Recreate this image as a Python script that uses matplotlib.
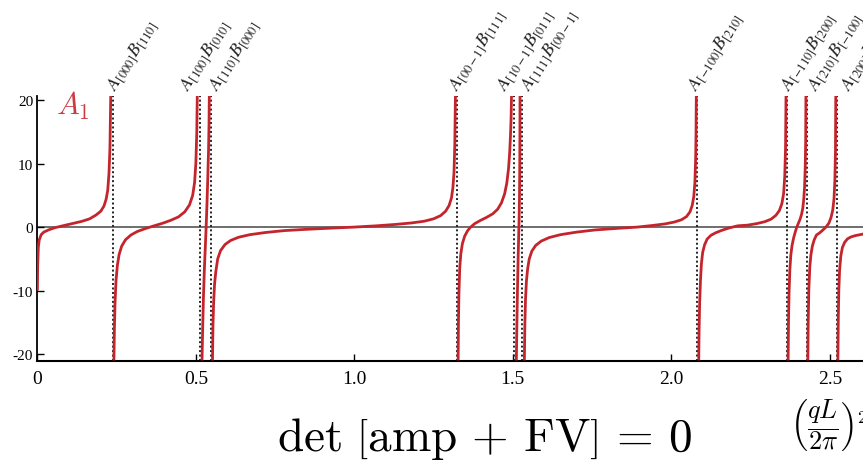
import matplotlib
matplotlib.use("Agg")
import matplotlib.pyplot as plt

plt.rcParams['axes.unicode_minus'] = False
plt.rcParams['font.family'] = ['Liberation Serif', 'DejaVu Serif']

# pole positions (dotted lines), in (qL/2pi)^2
pole_x = [0.238, 0.513, 0.548, 1.325, 1.505, 1.528, 2.082, 2.3655, 2.4275, 2.5215]

# level labels and where they sit
level_labels = [r'$A_{[000]}B_{[110]}$', r'$A_{[100]}B_{[010]}$', r'$A_{[110]}B_{[000]}$',
                r'$A_{[00-1]}B_{[111]}$', r'$A_{[10-1]}B_{[011]}$', r'$A_{[111]}B_{[00-1]}$',
                r'$A_{[-100]}B_{[210]}$', r'$A_{[-110]}B_{[200]}$', r'$A_{[210]}B_{[-100]}$',
                r'$A_{[200]}B_{[-110]}$']
label_x = [0.244, 0.476, 0.565, 1.323, 1.476, 1.550, 2.076, 2.371, 2.455, 2.560]

# branches of det[amp + FV]
b0_x = [0.000, 0.001, 0.003, 0.006, 0.012, 0.020, 0.035, 0.055, 0.080, 0.110, 0.140, 0.165,
        0.185, 0.200, 0.210, 0.217, 0.222, 0.226, 0.229, 0.2315]
b0_y = [-10.0, -6.0, -3.2, -2.0, -1.2, -0.8, -0.45, -0.1, 0.2, 0.55, 0.9, 1.3,
        1.9, 2.5, 3.3, 4.4, 5.8, 8.5, 12.5, 20.7]
b1_x = [0.2415, 0.243, 0.245, 0.248, 0.2525, 0.258, 0.266, 0.278, 0.295, 0.315, 0.340, 0.365,
        0.395, 0.420, 0.445, 0.465, 0.480, 0.490, 0.496, 0.500, 0.503, 0.5045]
b1_y = [-21.0, -16.0, -12.0, -8.5, -6.0, -4.3, -3.0, -2.0, -1.25, -0.7, -0.25, 0.15,
        0.6, 1.05, 1.6, 2.4, 3.5, 5.0, 7.0, 10.0, 15.0, 20.7]
b2_x = [0.5195, 0.5215, 0.524, 0.527, 0.530, 0.5325, 0.535, 0.5375, 0.540, 0.5415, 0.5425]
b2_y = [-21.0, -16.0, -11.0, -6.5, -3.0, 0.0, 3.5, 7.5, 12.0, 16.0, 20.7]
b3_x = [0.5525, 0.554, 0.556, 0.559, 0.563, 0.569, 0.578, 0.592, 0.610, 0.635, 0.670, 0.720,
        0.780, 0.850, 0.920, 1.000, 1.070, 1.130, 1.180, 1.220, 1.250, 1.272, 1.288, 1.299,
        1.3065, 1.311, 1.3145, 1.317, 1.319]
b3_y = [-21.0, -15.5, -12.0, -9.0, -7.0, -5.0, -3.7, -2.75, -2.1, -1.6, -1.2, -0.85,
        -0.55, -0.35, -0.18, 0.0, 0.2, 0.42, 0.65, 0.92, 1.3, 1.8, 2.5, 3.4,
        4.6, 6.2, 8.6, 13.0, 20.7]
b4_x = [1.3275, 1.3285, 1.330, 1.3325, 1.336, 1.341, 1.348, 1.357, 1.367, 1.380, 1.398, 1.418,
        1.437, 1.452, 1.464, 1.474, 1.481, 1.4865, 1.490, 1.4925, 1.4945, 1.496]
b4_y = [-21.0, -15.0, -10.5, -6.5, -4.2, -2.6, -1.45, -0.6, 0.0, 0.55, 1.05, 1.55,
        2.1, 2.8, 3.8, 5.2, 6.9, 9.2, 11.6, 14.2, 17.0, 20.7]
b5_x = [1.5112, 1.5125, 1.514, 1.5155, 1.517, 1.5185, 1.5198, 1.521, 1.5218, 1.5224, 1.5228]
b5_y = [-21.0, -16.5, -12.0, -8.0, -4.5, -1.5, 1.0, 4.5, 8.5, 14.0, 20.7]
b6_x = [1.5365, 1.538, 1.540, 1.543, 1.547, 1.552, 1.560, 1.572, 1.590, 1.615, 1.650, 1.700,
        1.760, 1.830, 1.893, 1.940, 1.980, 2.010, 2.032, 2.048, 2.059, 2.066, 2.071, 2.0745,
        2.077, 2.078, 2.079]
b6_y = [-21.0, -15.5, -11.5, -8.5, -6.5, -5.0, -3.8, -2.9, -2.2, -1.65, -1.2, -0.8,
        -0.45, -0.2, 0.0, 0.25, 0.5, 0.8, 1.15, 1.65, 2.4, 3.4, 4.8, 7.0,
        11.0, 14.5, 20.7]
b7_x = [2.0866, 2.0878, 2.0895, 2.092, 2.095, 2.099, 2.105, 2.113, 2.125, 2.140, 2.160, 2.185,
        2.210, 2.240, 2.270, 2.295, 2.315, 2.330, 2.341, 2.349, 2.3545, 2.358, 2.3605, 2.362]
b7_y = [-21.0, -16.0, -12.0, -8.5, -5.8, -4.0, -2.8, -1.9, -1.3, -0.9, -0.5, -0.1,
        0.2, 0.3, 0.55, 0.85, 1.25, 1.85, 2.6, 3.7, 5.3, 8.0, 12.5, 20.7]
b8_x = [2.3686, 2.3698, 2.3715, 2.374, 2.377, 2.381, 2.386, 2.391, 2.396, 2.401, 2.406, 2.411,
        2.415, 2.418, 2.4205, 2.4225, 2.424, 2.4248]
b8_y = [-21.0, -15.0, -10.5, -6.8, -4.5, -2.9, -1.7, -0.8, 0.0, 0.6, 1.2, 2.0,
        3.0, 4.4, 6.3, 9.2, 13.5, 20.7]
b9_x = [2.4308, 2.432, 2.434, 2.437, 2.4405, 2.445, 2.451, 2.458, 2.467, 2.4775, 2.488, 2.497,
        2.504, 2.5095, 2.5135, 2.5162, 2.518, 2.519]
b9_y = [-21.0, -15.0, -9.8, -6.3, -4.4, -3.0, -2.0, -1.25, -0.95, -0.5, 0.0, 0.6,
        1.5, 2.7, 4.5, 7.5, 12.0, 20.7]
b10_x = [2.5256, 2.527, 2.5287, 2.531, 2.535, 2.540, 2.547, 2.556, 2.567, 2.580, 2.595, 2.610,
         2.630, 2.650]
b10_y = [-21.0, -14.0, -9.8, -6.8, -4.5, -3.2, -2.4, -1.85, -1.55, -1.35, -1.2, -1.05,
         -0.9, -0.75]

branches = [(b0_x, b0_y), (b1_x, b1_y), (b2_x, b2_y), (b3_x, b3_y), (b4_x, b4_y),
            (b5_x, b5_y), (b6_x, b6_y), (b7_x, b7_y), (b8_x, b8_y), (b9_x, b9_y),
            (b10_x, b10_y)]

xticks = [0, 0.5, 1.0, 1.5, 2.0, 2.5]
xticklabels = ['0', '0.5', '1.0', '1.5', '2.0', '2.5']
yticks = [-20, -10, 0, 10, 20]

curve_color = '#c4252c'

fig = plt.figure(figsize=(8.63, 4.64), dpi=100)
# axes run past the right edge on purpose, the original is cropped there
ax = fig.add_axes([0.0433, 0.2205, 1.01, 0.5711])
ax.set_xlim(0, 2.75)
ax.set_ylim(-21.05, 20.7)

ax.axhline(0, color='#555555', lw=1.2, zorder=1)
for p in pole_x:
    ax.axvline(p, color='#222222', lw=1.4, ls=(0, (1, 1.3)), zorder=2)
for bx, by in branches:
    ax.plot(bx, by, color=curve_color, lw=2.0, zorder=3, solid_capstyle='butt')

for s, lx in zip(level_labels, label_x):
    ax.text(lx, 21.4, s, rotation=58, rotation_mode='anchor', ha='left', va='baseline',
            fontsize=13, color='#222222', math_fontfamily='stix', clip_on=False)

ax.text(0.058, 17.9, r'$A_1$', fontsize=22, color='#cc3a44', math_fontfamily='cm')

ax.spines['top'].set_visible(False)
ax.spines['right'].set_visible(False)
ax.spines['left'].set_linewidth(1.3)
ax.spines['bottom'].set_linewidth(1.5)

ax.set_xticks(xticks)
ax.set_xticklabels(xticklabels)
ax.set_yticks(yticks)
ax.tick_params(axis='x', direction='in', length=5, width=1.0, labelsize=14, pad=7)
ax.tick_params(axis='y', direction='in', length=5, width=1.0, labelsize=11, pad=3)

fig.text(0.561, 0.028, r'$\det\,\left[\mathrm{amp}\,+\,\mathrm{FV}\right]\,=\,0$', ha='center',
         va='baseline', fontsize=34, math_fontfamily='cm')
fig.text(0.915, 0.085, r'$\left(\dfrac{qL}{2\pi}\right)^2$', ha='left', va='center',
         fontsize=19, math_fontfamily='cm')

fig.savefig('out.png', dpi=100)
